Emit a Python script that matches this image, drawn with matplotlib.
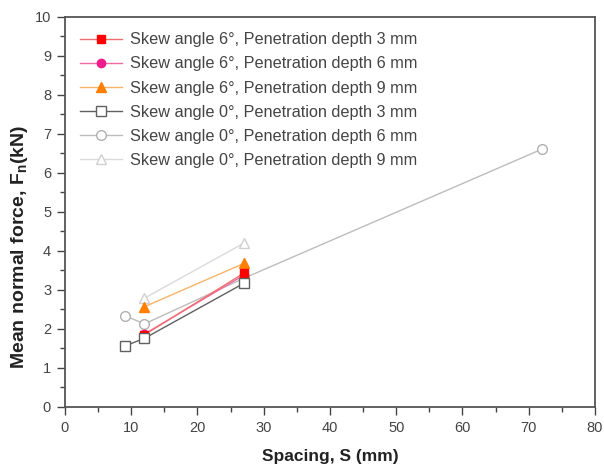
import matplotlib
matplotlib.use('Agg')
import matplotlib.pyplot as plt
from matplotlib.ticker import MultipleLocator

plt.rcParams['font.family'] = ['Liberation Sans', 'DejaVu Sans']
plt.rcParams['mathtext.fontset'] = 'custom'
plt.rcParams['mathtext.rm'] = 'Liberation Sans:bold'
plt.rcParams['mathtext.it'] = 'Liberation Sans:bold'

# ----------------- Data -----------------
labels = ['Skew angle 6°, Penetration depth 3 mm',
          'Skew angle 6°, Penetration depth 6 mm',
          'Skew angle 6°, Penetration depth 9 mm',
          'Skew angle 0°, Penetration depth 3 mm',
          'Skew angle 0°, Penetration depth 6 mm',
          'Skew angle 0°, Penetration depth 9 mm']

s6_d3_x = [12, 27]
s6_d3_y = [1.85, 3.43]
s6_d6_x = [12, 27]
s6_d6_y = [1.87, 3.38]
s6_d9_x = [12, 27]
s6_d9_y = [2.57, 3.68]
s0_d3_x = [9, 12, 27]
s0_d3_y = [1.56, 1.76, 3.17]
s0_d6_x = [9, 12, 27, 72]
s0_d6_y = [2.34, 2.13, 3.3, 6.61]
s0_d9_x = [12, 27]
s0_d9_y = [2.79, 4.2]

fig = plt.figure(figsize=(6.04, 4.71), dpi=100)
ax = fig.add_axes([0.1076, 0.136, 0.8774, 0.828])

# hollow series first, filled on top
ax.plot(s0_d9_x, s0_d9_y, '-^', color='#dadada', mfc='white', mec='#d0d0d0',
        ms=7.5, lw=1, label=labels[5], zorder=2)
ax.plot(s0_d6_x, s0_d6_y, '-o', color='#bdbdbd', mfc='white', mec='#b0b0b0',
        ms=7, lw=1, label=labels[4], zorder=2)
ax.plot(s6_d6_x, s6_d6_y, '-o', color='#f06aa5', mfc='#ee1c8c', mec='#ee1c8c',
        ms=6, lw=1, label=labels[1], zorder=3)
ax.plot(s6_d9_x, s6_d9_y, '-^', color='#f8b468', mfc='#ff7f00', mec='#ff7f00',
        ms=7, lw=1, label=labels[2], zorder=4)
ax.plot(s6_d3_x, s6_d3_y, '-s', color='#f07070', mfc='#ff0000', mec='#ff0000',
        ms=6, lw=1, label=labels[0], zorder=4)
ax.plot(s0_d3_x, s0_d3_y, '-s', color='#606060', mfc='white', mec='#606060',
        ms=6.5, lw=1, label=labels[3], zorder=5)

ax.set_xlim(0, 80)
ax.set_ylim(0, 10)
ax.xaxis.set_major_locator(MultipleLocator(10))
ax.xaxis.set_minor_locator(MultipleLocator(5))
ax.yaxis.set_major_locator(MultipleLocator(1))
ax.yaxis.set_minor_locator(MultipleLocator(0.5))
ax.tick_params(which='major', direction='out', length=6, width=1, pad=4,
               labelsize=10.5, labelcolor='#444444', color='#444444')
ax.tick_params(which='minor', direction='out', length=3.5, width=1, color='#444444')
for sp in ax.spines.values():
    sp.set_color('#555555')
    sp.set_linewidth(1.3)

ax.set_xlabel('Spacing, S (mm)', fontsize=12.5, fontweight='bold',
              color='#222222', labelpad=10)
ax.set_ylabel(r'Mean normal force, F$_{\rm n}$(kN)', fontsize=14,
              fontweight='bold', color='#222222')
ax.yaxis.set_label_coords(-0.066, 0.41)

# legend order as in the picture
handles, lbls = ax.get_legend_handles_labels()
order = [lbls.index(l) for l in labels]
leg = ax.legend([handles[i] for i in order], [lbls[i] for i in order],
                loc='upper left', frameon=False, fontsize=11.7,
                handlelength=2.55, labelspacing=0.56, borderaxespad=0.55,
                handletextpad=0.5)
for t in leg.get_texts():
    t.set_color('#444444')

plt.savefig('out.png', dpi=100)
